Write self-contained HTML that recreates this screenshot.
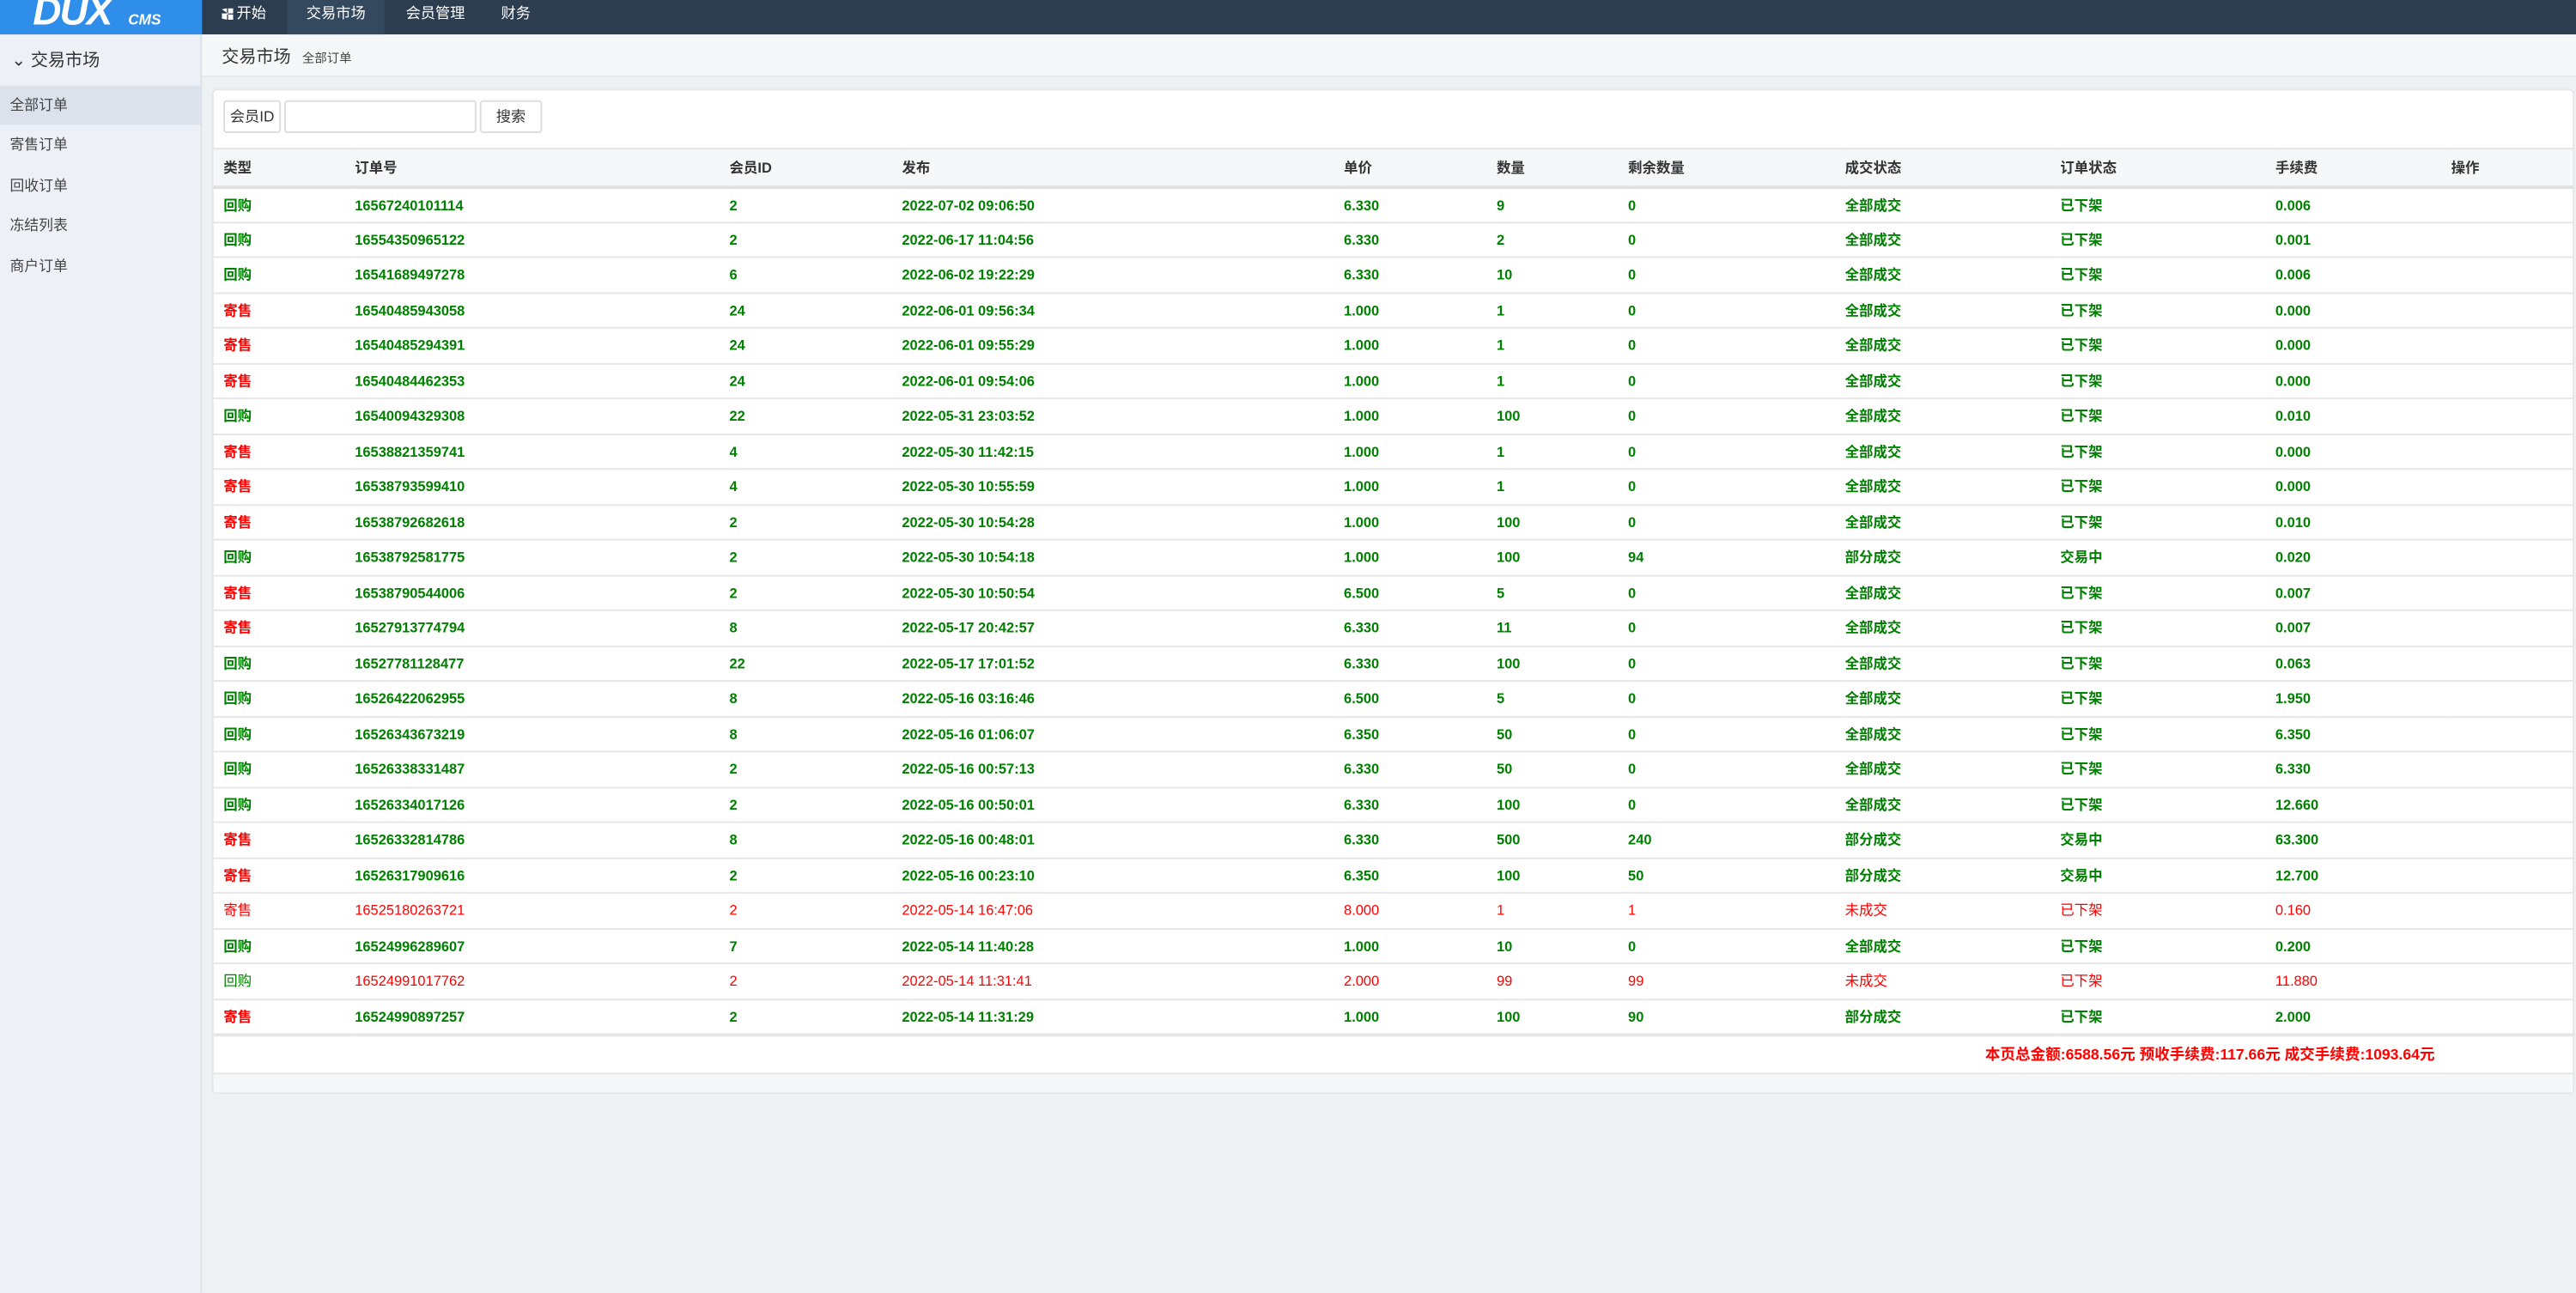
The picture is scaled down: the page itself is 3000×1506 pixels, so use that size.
<!DOCTYPE html>
<html><head><meta charset="utf-8"><style>
html,body{margin:0;padding:0;width:3000px;height:1506px;overflow:hidden;background:#eef1f4}
#w{position:absolute;left:0;top:0;width:1568px;height:787px;transform:scale(1.91327);transform-origin:0 0;font-family:"Liberation Sans","Noto Sans CJK SC",sans-serif;background:#eef1f4;}
.nav{position:absolute;left:0;top:0;width:1568px;height:21px;background:#2c3d50}
.logo{position:absolute;left:0;top:0;width:123px;height:21px;background:#2f8eea;color:#fff;overflow:hidden}
.logo b{position:absolute;left:20px;top:-6px;font:italic bold 24px "Liberation Sans",sans-serif;letter-spacing:-1px}
.logo i{position:absolute;left:78px;top:7px;font:italic bold 9px "Liberation Sans",sans-serif}
.ni{position:absolute;top:0;height:21px;line-height:17px;color:#fff;font-size:9px}
.side{position:absolute;left:0;top:21px;width:122px;height:766px;background:#edf1f7;border-right:1px solid #dde2e8}
.side .h{position:absolute;left:7px;top:8px;font-size:10.5px;color:#333}
.side .it{position:absolute;left:0;width:122px;height:24px;line-height:24px;padding-left:6px;box-sizing:border-box;font-size:8.8px;color:#444}
.crumb{position:absolute;left:123px;top:21px;width:1445px;height:25px;background:#f6f7f9;border-bottom:1px solid #e4e7eb}
.card{position:absolute;left:129px;top:54px;width:1436px;height:610px;background:#fff;border:1px solid #e3e5e8;border-radius:3px}
.bx{position:absolute;top:6px;height:20px;border:1px solid #ddd;border-radius:2px;box-sizing:border-box;font-size:9px;line-height:18px;color:#333;text-align:center;background:#fff}
table{position:absolute;left:0;top:35px;width:1436px;border-collapse:collapse;font-size:8.6px}
td,th{height:21.5px;padding:0;text-align:left;white-space:nowrap;border-top:1px solid #e6e6e6;box-sizing:border-box}
th{height:23px;background:#f6f7f9;color:#333;border-top:1px solid #e3e3e3;border-bottom:2px solid #e0e0e0}
tr.g td{color:#008000;font-weight:bold}
td.r{color:#f00!important}
tr.n td{font-weight:normal;color:#f00}
.foot{position:absolute;left:0;top:598px;width:1436px;height:11px;background:#f6f7f9;border-top:1px solid #e6e6e6}
</style></head><body><div id="w">
<div class="nav">
<div class="logo"><b>DUX</b><i>CMS</i></div>
<div class="ni" style="left:135px;width:40px"><span style="display:inline-block;width:7px;height:7px;background:#fff;vertical-align:-1px;margin-right:2px;clip-path:polygon(0 10%,45% 0,45% 45%,0 45%,0 55%,45% 55%,45% 100%,0 90%,0 55%,55% 55%,100% 55%,100% 100%,55% 100%,55% 55%,55% 45%,55% 0,100% 0,100% 45%,55% 45%)"></span>开始</div>
<div class="ni" style="left:175px;width:59px;background:#35495e;text-align:center">交易市场</div>
<div class="ni" style="left:247px">会员管理</div>
<div class="ni" style="left:305px">财务</div>
</div>
<div class="side">
<div class="h">&#8964;<span style="display:inline-block;width:0"></span> 交易市场</div>
<div class="it" style="top:31px;background:#dbe2eb">全部订单</div>
<div class="it" style="top:55px">寄售订单</div>
<div class="it" style="top:80px">回收订单</div>
<div class="it" style="top:104px">冻结列表</div>
<div class="it" style="top:129px">商户订单</div>
</div>
<div class="crumb"><span style="position:absolute;left:12px;top:6px;font-size:10.5px;color:#333">交易市场</span><span style="position:absolute;left:61px;top:9px;font-size:7.5px;color:#444">全部订单</span></div>
<div class="card">
<div class="bx" style="left:6px;width:35px">会员ID</div>
<div class="bx" style="left:43px;width:117px"></div>
<div class="bx" style="left:162px;width:38px">搜索</div>
<table>
<colgroup><col style="width:86px"><col style="width:228px"><col style="width:105px"><col style="width:269px"><col style="width:93px"><col style="width:80px"><col style="width:132px"><col style="width:131px"><col style="width:131px"><col style="width:107px"><col></colgroup>
<tr><th style="padding-left:6px">类型</th><th>订单号</th><th>会员ID</th><th>发布</th><th>单价</th><th>数量</th><th>剩余数量</th><th>成交状态</th><th>订单状态</th><th>手续费</th><th>操作</th></tr>
<tr class="g"><td style="padding-left:6px">回购</td><td>16567240101114</td><td>2</td><td>2022-07-02 09:06:50</td><td>6.330</td><td>9</td><td>0</td><td>全部成交</td><td>已下架</td><td>0.006</td><td></td></tr>
<tr class="g"><td style="padding-left:6px">回购</td><td>16554350965122</td><td>2</td><td>2022-06-17 11:04:56</td><td>6.330</td><td>2</td><td>0</td><td>全部成交</td><td>已下架</td><td>0.001</td><td></td></tr>
<tr class="g"><td style="padding-left:6px">回购</td><td>16541689497278</td><td>6</td><td>2022-06-02 19:22:29</td><td>6.330</td><td>10</td><td>0</td><td>全部成交</td><td>已下架</td><td>0.006</td><td></td></tr>
<tr class="g"><td class="r" style="padding-left:6px">寄售</td><td>16540485943058</td><td>24</td><td>2022-06-01 09:56:34</td><td>1.000</td><td>1</td><td>0</td><td>全部成交</td><td>已下架</td><td>0.000</td><td></td></tr>
<tr class="g"><td class="r" style="padding-left:6px">寄售</td><td>16540485294391</td><td>24</td><td>2022-06-01 09:55:29</td><td>1.000</td><td>1</td><td>0</td><td>全部成交</td><td>已下架</td><td>0.000</td><td></td></tr>
<tr class="g"><td class="r" style="padding-left:6px">寄售</td><td>16540484462353</td><td>24</td><td>2022-06-01 09:54:06</td><td>1.000</td><td>1</td><td>0</td><td>全部成交</td><td>已下架</td><td>0.000</td><td></td></tr>
<tr class="g"><td style="padding-left:6px">回购</td><td>16540094329308</td><td>22</td><td>2022-05-31 23:03:52</td><td>1.000</td><td>100</td><td>0</td><td>全部成交</td><td>已下架</td><td>0.010</td><td></td></tr>
<tr class="g"><td class="r" style="padding-left:6px">寄售</td><td>16538821359741</td><td>4</td><td>2022-05-30 11:42:15</td><td>1.000</td><td>1</td><td>0</td><td>全部成交</td><td>已下架</td><td>0.000</td><td></td></tr>
<tr class="g"><td class="r" style="padding-left:6px">寄售</td><td>16538793599410</td><td>4</td><td>2022-05-30 10:55:59</td><td>1.000</td><td>1</td><td>0</td><td>全部成交</td><td>已下架</td><td>0.000</td><td></td></tr>
<tr class="g"><td class="r" style="padding-left:6px">寄售</td><td>16538792682618</td><td>2</td><td>2022-05-30 10:54:28</td><td>1.000</td><td>100</td><td>0</td><td>全部成交</td><td>已下架</td><td>0.010</td><td></td></tr>
<tr class="g"><td style="padding-left:6px">回购</td><td>16538792581775</td><td>2</td><td>2022-05-30 10:54:18</td><td>1.000</td><td>100</td><td>94</td><td>部分成交</td><td>交易中</td><td>0.020</td><td></td></tr>
<tr class="g"><td class="r" style="padding-left:6px">寄售</td><td>16538790544006</td><td>2</td><td>2022-05-30 10:50:54</td><td>6.500</td><td>5</td><td>0</td><td>全部成交</td><td>已下架</td><td>0.007</td><td></td></tr>
<tr class="g"><td class="r" style="padding-left:6px">寄售</td><td>16527913774794</td><td>8</td><td>2022-05-17 20:42:57</td><td>6.330</td><td>11</td><td>0</td><td>全部成交</td><td>已下架</td><td>0.007</td><td></td></tr>
<tr class="g"><td style="padding-left:6px">回购</td><td>16527781128477</td><td>22</td><td>2022-05-17 17:01:52</td><td>6.330</td><td>100</td><td>0</td><td>全部成交</td><td>已下架</td><td>0.063</td><td></td></tr>
<tr class="g"><td style="padding-left:6px">回购</td><td>16526422062955</td><td>8</td><td>2022-05-16 03:16:46</td><td>6.500</td><td>5</td><td>0</td><td>全部成交</td><td>已下架</td><td>1.950</td><td></td></tr>
<tr class="g"><td style="padding-left:6px">回购</td><td>16526343673219</td><td>8</td><td>2022-05-16 01:06:07</td><td>6.350</td><td>50</td><td>0</td><td>全部成交</td><td>已下架</td><td>6.350</td><td></td></tr>
<tr class="g"><td style="padding-left:6px">回购</td><td>16526338331487</td><td>2</td><td>2022-05-16 00:57:13</td><td>6.330</td><td>50</td><td>0</td><td>全部成交</td><td>已下架</td><td>6.330</td><td></td></tr>
<tr class="g"><td style="padding-left:6px">回购</td><td>16526334017126</td><td>2</td><td>2022-05-16 00:50:01</td><td>6.330</td><td>100</td><td>0</td><td>全部成交</td><td>已下架</td><td>12.660</td><td></td></tr>
<tr class="g"><td class="r" style="padding-left:6px">寄售</td><td>16526332814786</td><td>8</td><td>2022-05-16 00:48:01</td><td>6.330</td><td>500</td><td>240</td><td>部分成交</td><td>交易中</td><td>63.300</td><td></td></tr>
<tr class="g"><td class="r" style="padding-left:6px">寄售</td><td>16526317909616</td><td>2</td><td>2022-05-16 00:23:10</td><td>6.350</td><td>100</td><td>50</td><td>部分成交</td><td>交易中</td><td>12.700</td><td></td></tr>
<tr class="n"><td style="padding-left:6px">寄售</td><td>16525180263721</td><td>2</td><td>2022-05-14 16:47:06</td><td>8.000</td><td>1</td><td>1</td><td>未成交</td><td>已下架</td><td>0.160</td><td></td></tr>
<tr class="g"><td style="padding-left:6px">回购</td><td>16524996289607</td><td>7</td><td>2022-05-14 11:40:28</td><td>1.000</td><td>10</td><td>0</td><td>全部成交</td><td>已下架</td><td>0.200</td><td></td></tr>
<tr class="n"><td style="padding-left:6px;color:#008000">回购</td><td>16524991017762</td><td>2</td><td>2022-05-14 11:31:41</td><td>2.000</td><td>99</td><td>99</td><td>未成交</td><td>已下架</td><td>11.880</td><td></td></tr>
<tr class="g"><td class="r" style="padding-left:6px">寄售</td><td>16524990897257</td><td>2</td><td>2022-05-14 11:31:29</td><td>1.000</td><td>100</td><td>90</td><td>部分成交</td><td>已下架</td><td>2.000</td><td></td></tr>
<tr><td colspan="11" style="height:22px;text-align:right;padding-right:84px;color:#f00;font-weight:bold;font-size:9.2px;border-top:2px solid #e6e6e6">本页总金额:6588.56元 预收手续费:117.66元 成交手续费:1093.64元</td></tr>
</table>
<div class="foot"></div>
</div>
</div></body></html>
